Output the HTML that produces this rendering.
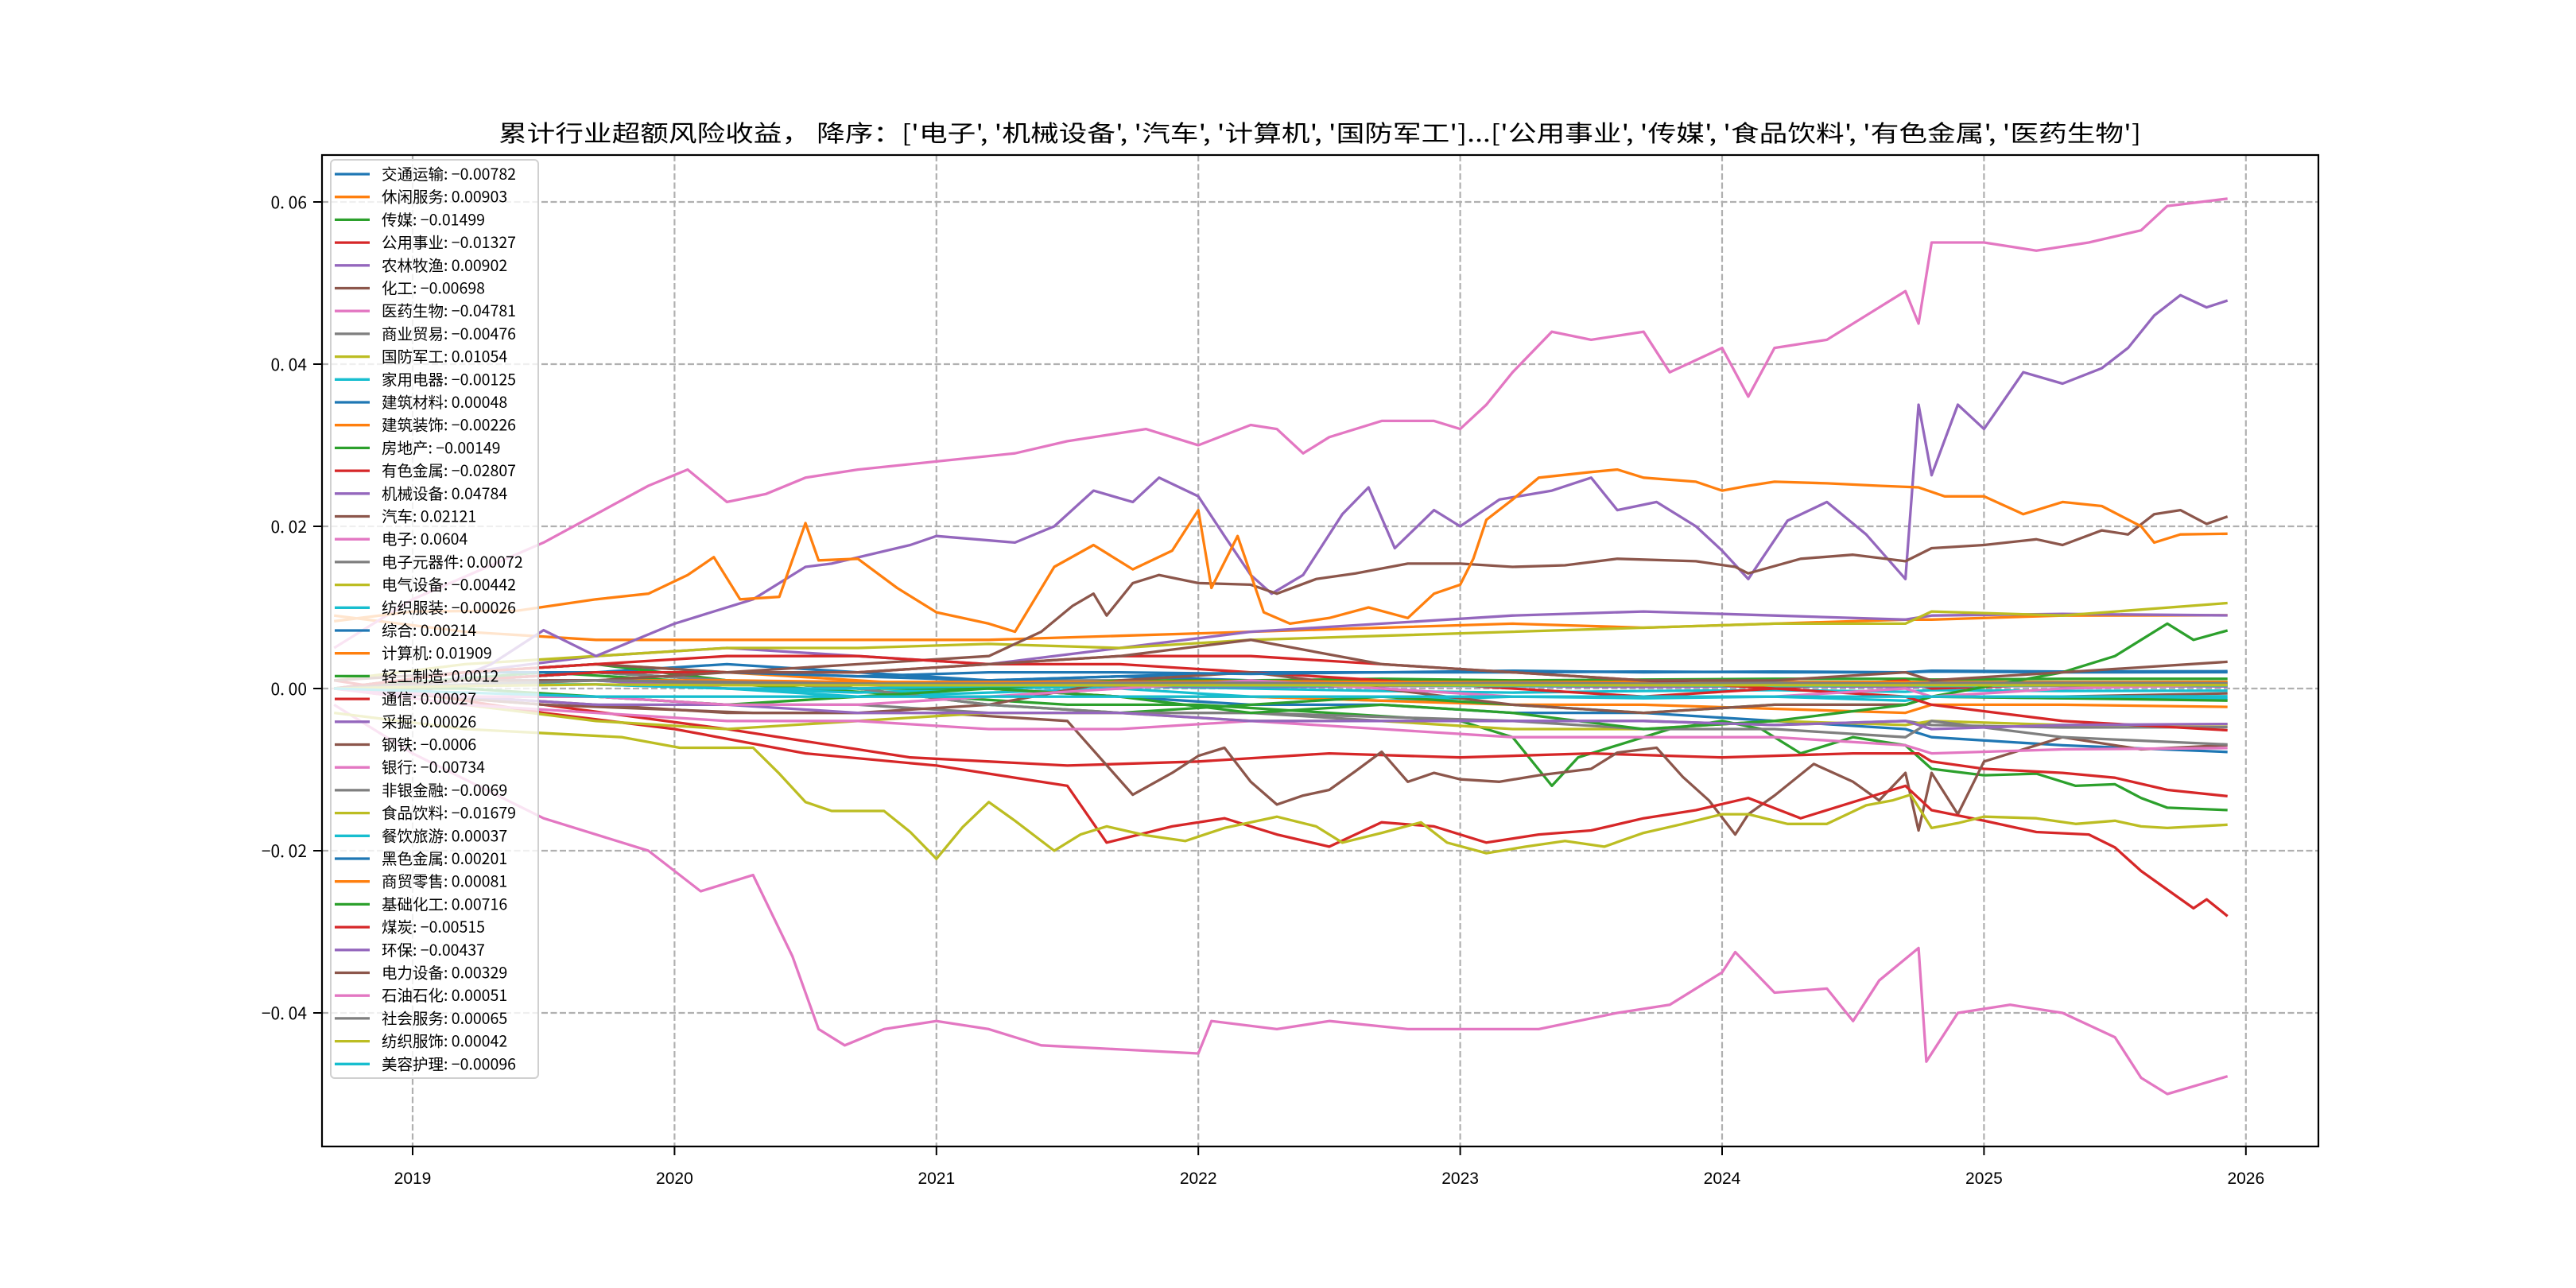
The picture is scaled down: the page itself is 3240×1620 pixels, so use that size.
<!DOCTYPE html>
<html><head><meta charset="utf-8">
<style>
html,body{margin:0;padding:0;background:#fff;}
svg{display:block;}
text{font-family:"Liberation Sans","Noto Sans CJK SC",sans-serif;}
</style></head>
<body>
<svg id="chart" width="3240" height="1620" viewBox="0 0 3240 1620" xmlns="http://www.w3.org/2000/svg">
<rect x="0" y="0" width="3240" height="1620" fill="#fff"/>
<text x="1660" y="178" text-anchor="middle" font-size="29" fill="#000" textLength="2066" lengthAdjust="spacingAndGlyphs" style="font-family:'WenQuanYi Zen Hei','Noto Sans CJK SC',sans-serif">累计行业超额风险收益， 降序：['电子', '机械设备', '汽车', '计算机', '国防军工']...['公用事业', '传媒', '食品饮料', '有色金属', '医药生物']</text>
<g id="grid"></g>
<g id="series"></g>
<rect x="405" y="195" width="2511" height="1247" fill="none" stroke="#000" stroke-width="2.2"/>
<g id="ticks"></g>
<g id="legend"></g>
</svg>
<script>
// ---- data ----
const xTicks = [2019, 2020, 2021, 2022, 2023, 2024, 2025, 2026];
const yTicks = [-0.04, -0.02, 0.00, 0.02, 0.04, 0.06];
const yTickLabels = ["−0. 04", "−0. 02", "0. 00", "0. 02", "0. 04", "0. 06"];
const names = ["交通运输","休闲服务","传媒","公用事业","农林牧渔","化工","医药生物","商业贸易","国防军工","家用电器","建筑材料","建筑装饰","房地产","有色金属","机械设备","汽车","电子","电子元器件","电气设备","纺织服装","综合","计算机","轻工制造","通信","采掘","钢铁","银行","非银金融","食品饮料","餐饮旅游","黑色金属","商贸零售","基础化工","煤炭","环保","电力设备","石油石化","社会服务","纺织服饰","美容护理"];
const finals = ["-0.00782","0.00903","-0.01499","-0.01327","0.00902","-0.00698","-0.04781","-0.00476","0.01054","-0.00125","0.00048","-0.00226","-0.00149","-0.02807","0.04784","0.02121","0.0604","0.00072","-0.00442","-0.00026","0.00214","0.01909","0.0012","0.00027","0.00026","-0.0006","-0.00734","-0.0069","-0.01679","0.00037","0.00201","0.00081","0.00716","-0.00515","-0.00437","0.00329","0.00051","0.00065","0.00042","-0.00096"];

const tc = [2018.7,2019.2,2019.7,2020.2,2020.7,2021.2,2021.7,2022.2,2022.7,2023.2,2023.7,2024.2,2024.7,2024.8,2025.3,2025.93];

const v_jiaotong   = [0,0.001,0.002,0.001,0.000,0.000,-0.001,-0.002,-0.002,-0.003,-0.003,-0.004,-0.005,-0.006,-0.007,-0.00782];
const v_xiuxian    = [0.009,0.007,0.006,0.006,0.006,0.006,0.0065,0.007,0.0075,0.008,0.0075,0.008,0.0085,0.0085,0.009,0.00903];
const v_nonglin    = [0.000,0.002,0.004,0.005,0.004,0.003,0.005,0.007,0.008,0.009,0.0095,0.009,0.0085,0.009,0.0092,0.00902];
const v_shangye    = [0,-0.001,-0.001,-0.002,-0.002,-0.003,-0.003,-0.003,-0.0035,-0.004,-0.004,-0.0045,-0.004,-0.0045,-0.0048,-0.00476];
const v_guofang    = [0.001,0.003,0.004,0.005,0.005,0.0055,0.005,0.006,0.0065,0.007,0.0075,0.008,0.008,0.0095,0.009,0.01054];
const v_jiayong    = [0,0.001,0.001,0.000,-0.001,-0.0005,0,-0.001,-0.0015,-0.001,-0.0012,-0.001,-0.0015,-0.001,-0.0012,-0.00125];
const v_jiancai    = [0,0.002,0.002,0.003,0.002,0.001,0.0015,0.001,0.001,0.0005,0.0008,0.0005,0.0003,0.0005,0.0005,0.00048];
const v_jianzhuang = [0,0.002,0.003,0.002,0.001,0.000,-0.001,-0.001,-0.0015,-0.002,-0.002,-0.0025,-0.003,-0.002,-0.002,-0.00226];
const v_fangdichan = [0,0.002,0.003,0.001,0.000,-0.002,-0.003,-0.002,-0.001,-0.002,-0.003,-0.002,-0.002,-0.001,-0.0012,-0.00149];
const v_yuanqijian = [0,0.001,0.001,0.0005,0.0005,0.001,0.001,0.0008,0.0008,0.0007,0.0005,0.0007,0.0006,0.0008,0.0007,0.00072];
const v_dianqi     = [0,-0.002,-0.004,-0.005,-0.004,-0.003,-0.003,-0.004,-0.004,-0.005,-0.005,-0.004,-0.0045,-0.004,-0.0045,-0.00442];
const v_fangzhi    = [0,0.0005,0.0005,0,-0.0005,0,0.0003,0,-0.0003,-0.0005,-0.0003,-0.0002,-0.0004,-0.0002,-0.0003,-0.00026];
const v_zonghe     = [0,0.001,0.002,0.002,0.0015,0.001,0.0015,0.002,0.002,0.0022,0.002,0.0021,0.002,0.0022,0.0021,0.00214];
const v_qinggong   = [0,0.001,0.002,0.001,0.000,0.000,0.001,0.001,0.0012,0.001,0.0011,0.0012,0.0012,0.0011,0.0012,0.0012];
const v_tongxin    = [0,0.002,0.003,0.004,0.004,0.003,0.003,0.002,0.001,0.000,-0.001,0.000,0.001,0.000,0.0005,0.00027];
const v_caijue     = [0,0.001,0.001,0,0,0.0005,0.0003,0.0002,0.0003,0.0003,0.0002,0.0003,0.0002,0.0003,0.0003,0.00026];
const v_gangtie    = [0,-0.001,-0.002,-0.003,-0.003,-0.002,0.001,0.002,0.000,-0.002,-0.003,-0.002,-0.002,-0.001,-0.001,-0.0006];
const v_yinhang    = [0,-0.002,-0.003,-0.004,-0.004,-0.005,-0.005,-0.004,-0.005,-0.006,-0.006,-0.006,-0.007,-0.008,-0.0075,-0.00734];
const v_feiyin     = [0,0.001,0.002,0.001,0.000,-0.002,-0.003,-0.003,-0.004,-0.004,-0.005,-0.005,-0.006,-0.004,-0.006,-0.0069];
const v_canyin     = [0,0.0005,0.0005,0,0,0.0003,0.0004,0.0003,0.0004,0.0003,0.0004,0.0003,0.0004,0.0003,0.0004,0.00037];
const v_heise      = [0,0.001,0.002,0.002,0.0015,0.002,0.002,0.0018,0.002,0.002,0.0021,0.002,0.002,0.0021,0.002,0.00201];
const v_shangmao   = [0,0.0005,0.001,0.001,0.0008,0.0008,0.0008,0.0009,0.0008,0.0008,0.0008,0.0008,0.0008,0.0008,0.0008,0.00081];
const v_meitan     = [0,0.001,0.002,0.002,0.002,0.003,0.004,0.004,0.003,0.002,0.001,0.000,-0.001,-0.002,-0.004,-0.00515];
const v_huanbao    = [0,-0.001,-0.002,-0.002,-0.003,-0.003,-0.003,-0.004,-0.004,-0.004,-0.004,-0.0045,-0.004,-0.005,-0.0045,-0.00437];
const v_dianli     = [0,0.001,0.001,0.002,0.002,0.003,0.004,0.006,0.003,0.002,0.001,0.001,0.002,0.001,0.002,0.00329];
const v_shiyou     = [0,-0.001,-0.001,-0.002,-0.002,-0.001,0,0.001,0.000,-0.001,-0.001,-0.001,0.000,-0.001,0.000,0.00051];
const v_shehui     = [0,0.0005,0.001,0.0008,0.0006,0.0006,0.0007,0.0007,0.0006,0.0007,0.0006,0.0007,0.0006,0.0007,0.0007,0.00065];
const v_fangzhifs  = [0,0.0003,0.0005,0.0004,0.0004,0.0004,0.0004,0.0004,0.0004,0.0004,0.0004,0.0004,0.0004,0.0004,0.0004,0.00042];
const v_meirong    = [0,-0.0005,-0.001,-0.001,-0.001,-0.001,-0.001,-0.001,-0.001,-0.001,-0.001,-0.001,-0.001,-0.001,-0.001,-0.00096];

const t_jichu = [2018.7,2019.2,2019.7,2020.2,2020.7,2021.2,2021.7,2022.2,2022.7,2023.2,2023.7,2024.2,2024.7,2024.8,2025.3,2025.5,2025.6,2025.7,2025.8,2025.93];
const v_jichu = [0,0,-0.001,-0.002,-0.001,0.000,-0.001,-0.003,-0.002,-0.003,-0.005,-0.004,-0.002,-0.001,0.002,0.004,0.006,0.008,0.006,0.00716];

const t_dianzi = [2018.7,2019.0,2019.5,2019.9,2020.05,2020.2,2020.35,2020.5,2020.7,2021.0,2021.3,2021.5,2021.8,2022.0,2022.2,2022.3,2022.4,2022.5,2022.7,2022.9,2023.0,2023.1,2023.2,2023.35,2023.5,2023.7,2023.8,2024.0,2024.1,2024.2,2024.4,2024.6,2024.7,2024.75,2024.8,2025.0,2025.2,2025.4,2025.6,2025.7,2025.93];
const v_dianzi = [0.005,0.011,0.018,0.025,0.027,0.023,0.024,0.026,0.027,0.028,0.029,0.0305,0.032,0.030,0.0325,0.032,0.029,0.031,0.033,0.033,0.032,0.035,0.039,0.044,0.043,0.044,0.039,0.042,0.036,0.042,0.043,0.047,0.049,0.045,0.055,0.055,0.054,0.055,0.0565,0.0595,0.0604];

const t_yiyao = [2018.7,2019.0,2019.5,2019.9,2020.1,2020.3,2020.45,2020.55,2020.65,2020.8,2021.0,2021.2,2021.4,2021.7,2022.0,2022.05,2022.3,2022.5,2022.8,2023.0,2023.3,2023.6,2023.8,2024.0,2024.05,2024.2,2024.4,2024.5,2024.6,2024.75,2024.78,2024.9,2025.1,2025.3,2025.5,2025.6,2025.7,2025.93];
const v_yiyao = [-0.002,-0.008,-0.016,-0.020,-0.025,-0.023,-0.033,-0.042,-0.044,-0.042,-0.041,-0.042,-0.044,-0.0445,-0.045,-0.041,-0.042,-0.041,-0.042,-0.042,-0.042,-0.040,-0.039,-0.035,-0.0325,-0.0375,-0.037,-0.041,-0.036,-0.032,-0.046,-0.040,-0.039,-0.040,-0.043,-0.048,-0.050,-0.04781];

const t_jixie = [2018.7,2019.0,2019.3,2019.5,2019.7,2020.0,2020.3,2020.5,2020.6,2020.9,2021.0,2021.3,2021.45,2021.6,2021.75,2021.85,2022.0,2022.1,2022.2,2022.28,2022.4,2022.55,2022.65,2022.75,2022.9,2023.0,2023.15,2023.35,2023.5,2023.6,2023.75,2023.9,2024.0,2024.1,2024.25,2024.4,2024.55,2024.7,2024.75,2024.8,2024.9,2025.0,2025.15,2025.3,2025.45,2025.55,2025.65,2025.75,2025.85,2025.93];
const v_jixie = [0.000,-0.001,0.003,0.0072,0.004,0.008,0.011,0.015,0.0154,0.0177,0.0188,0.018,0.020,0.0244,0.023,0.026,0.0237,0.0188,0.014,0.0117,0.014,0.0215,0.0248,0.0173,0.022,0.020,0.0233,0.0244,0.026,0.022,0.023,0.020,0.017,0.0135,0.0207,0.023,0.019,0.0135,0.035,0.0263,0.035,0.032,0.039,0.0376,0.0395,0.042,0.046,0.0485,0.047,0.04784];

const t_jisuanji = [2018.7,2019.0,2019.4,2019.7,2019.9,2020.05,2020.15,2020.25,2020.4,2020.5,2020.55,2020.7,2020.85,2021.0,2021.2,2021.3,2021.45,2021.6,2021.75,2021.9,2022.0,2022.05,2022.15,2022.25,2022.35,2022.5,2022.65,2022.8,2022.9,2023.0,2023.05,2023.1,2023.2,2023.3,2023.5,2023.6,2023.7,2023.9,2024.0,2024.1,2024.2,2024.4,2024.6,2024.75,2024.85,2025.0,2025.15,2025.3,2025.45,2025.6,2025.65,2025.75,2025.93];
const v_jisuanji = [0.0083,0.0095,0.0096,0.011,0.0117,0.014,0.0162,0.011,0.0113,0.0204,0.0158,0.016,0.0124,0.0094,0.008,0.007,0.015,0.0177,0.0147,0.017,0.022,0.0124,0.0188,0.0094,0.008,0.0087,0.010,0.0087,0.0117,0.0128,0.016,0.0208,0.0233,0.026,0.0267,0.027,0.026,0.0255,0.0244,0.025,0.0255,0.0253,0.025,0.0248,0.0237,0.0237,0.0215,0.023,0.0225,0.020,0.018,0.019,0.01909];

const t_qiche = [2018.7,2019.2,2019.7,2020.2,2020.7,2021.2,2021.4,2021.52,2021.6,2021.65,2021.75,2021.85,2022.0,2022.2,2022.3,2022.45,2022.6,2022.8,2023.0,2023.2,2023.4,2023.6,2023.9,2024.05,2024.1,2024.3,2024.5,2024.7,2024.8,2025.0,2025.2,2025.3,2025.45,2025.55,2025.65,2025.75,2025.85,2025.93];
const v_qiche = [0.001,0.002,0.003,0.002,0.003,0.004,0.007,0.0102,0.0117,0.009,0.013,0.014,0.013,0.0128,0.0117,0.0135,0.0142,0.0154,0.0154,0.015,0.0152,0.016,0.0157,0.015,0.0142,0.016,0.0165,0.0157,0.0173,0.0177,0.0184,0.0177,0.0195,0.019,0.0215,0.022,0.0203,0.02121];

const t_youse = [2018.7,2019.5,2020.0,2020.5,2021.0,2021.5,2021.65,2021.9,2022.1,2022.3,2022.5,2022.7,2022.9,2023.1,2023.3,2023.5,2023.7,2023.9,2024.1,2024.3,2024.5,2024.7,2024.8,2025.0,2025.2,2025.4,2025.5,2025.6,2025.7,2025.8,2025.85,2025.93];
const v_youse = [0.001,-0.003,-0.005,-0.008,-0.0095,-0.012,-0.019,-0.017,-0.016,-0.018,-0.0195,-0.0165,-0.017,-0.019,-0.018,-0.0175,-0.016,-0.015,-0.0135,-0.016,-0.014,-0.012,-0.015,-0.0163,-0.0177,-0.018,-0.0196,-0.0225,-0.0248,-0.0271,-0.026,-0.02807];

const t_gongyong = [2018.7,2019.5,2020.2,2020.9,2021.5,2022.0,2022.5,2023.0,2023.5,2024.0,2024.5,2024.75,2024.8,2025.0,2025.3,2025.5,2025.7,2025.93];
const v_gongyong = [0.000,-0.002,-0.005,-0.0085,-0.0095,-0.009,-0.008,-0.0085,-0.008,-0.0085,-0.008,-0.008,-0.009,-0.0099,-0.0104,-0.011,-0.0125,-0.01327];

const t_shipin = [2018.7,2019.2,2019.8,2020.02,2020.3,2020.4,2020.5,2020.6,2020.8,2020.9,2021.0,2021.1,2021.2,2021.3,2021.45,2021.55,2021.65,2021.8,2021.95,2022.1,2022.3,2022.45,2022.55,2022.7,2022.85,2022.95,2023.1,2023.25,2023.4,2023.55,2023.7,2023.85,2024.0,2024.1,2024.25,2024.4,2024.55,2024.65,2024.72,2024.8,2024.9,2025.0,2025.2,2025.35,2025.5,2025.6,2025.7,2025.93];
const v_shipin = [-0.003,-0.005,-0.006,-0.0073,-0.0073,-0.0105,-0.014,-0.0151,-0.0151,-0.0177,-0.021,-0.0171,-0.014,-0.0163,-0.020,-0.018,-0.017,-0.0181,-0.0188,-0.0172,-0.0158,-0.017,-0.019,-0.0178,-0.0165,-0.019,-0.0203,-0.0195,-0.0188,-0.0195,-0.0178,-0.0167,-0.0155,-0.0155,-0.0167,-0.0167,-0.0144,-0.0138,-0.0131,-0.0172,-0.0166,-0.0158,-0.016,-0.0167,-0.0163,-0.017,-0.0172,-0.01679];

const t_chuanmei = [2018.7,2019.5,2020.0,2020.5,2021.0,2021.5,2022.0,2022.5,2023.0,2023.2,2023.35,2023.45,2023.6,2023.8,2024.0,2024.15,2024.3,2024.5,2024.7,2024.8,2025.0,2025.2,2025.35,2025.5,2025.6,2025.7,2025.93];
const v_chuanmei = [0.000,0.002,0.001,0.000,-0.001,-0.002,-0.002,-0.003,-0.004,-0.006,-0.012,-0.0085,-0.007,-0.005,-0.004,-0.005,-0.008,-0.006,-0.007,-0.0099,-0.0107,-0.0105,-0.012,-0.0118,-0.0135,-0.0147,-0.01499];

const t_huagong = [2018.7,2019.5,2020.3,2021.0,2021.5,2021.75,2021.9,2022.0,2022.1,2022.2,2022.3,2022.4,2022.5,2022.6,2022.7,2022.8,2022.9,2023.0,2023.15,2023.3,2023.5,2023.6,2023.75,2023.85,2023.95,2024.05,2024.1,2024.2,2024.35,2024.5,2024.6,2024.7,2024.75,2024.8,2024.9,2025.0,2025.3,2025.6,2025.93];
const v_huagong = [0.000,-0.002,-0.003,-0.003,-0.004,-0.0131,-0.0104,-0.0083,-0.0073,-0.0115,-0.0143,-0.0132,-0.0125,-0.0102,-0.0078,-0.0115,-0.0104,-0.0112,-0.0115,-0.0107,-0.0099,-0.0079,-0.0073,-0.0109,-0.0138,-0.018,-0.0155,-0.0132,-0.0093,-0.0115,-0.0138,-0.0104,-0.0175,-0.0104,-0.0155,-0.009,-0.006,-0.0075,-0.00698];

const palette = ["#1f77b4","#ff7f0e","#2ca02c","#d62728","#9467bd","#8c564b","#e377c2","#7f7f7f","#bcbd22","#17becf"];

const seriesT = [tc,tc,t_chuanmei,t_gongyong,tc,t_huagong,t_yiyao,tc,tc,tc,tc,tc,tc,t_youse,t_jixie,t_qiche,t_dianzi,tc,tc,tc,tc,t_jisuanji,tc,tc,tc,tc,tc,tc,t_shipin,tc,tc,tc,t_jichu,tc,tc,tc,tc,tc,tc,tc];
const seriesV = [v_jiaotong,v_xiuxian,v_chuanmei,v_gongyong,v_nonglin,v_huagong,v_yiyao,v_shangye,v_guofang,v_jiayong,v_jiancai,v_jianzhuang,v_fangdichan,v_youse,v_jixie,v_qiche,v_dianzi,v_yuanqijian,v_dianqi,v_fangzhi,v_zonghe,v_jisuanji,v_qinggong,v_tongxin,v_caijue,v_gangtie,v_yinhang,v_feiyin,v_shipin,v_canyin,v_heise,v_shangmao,v_jichu,v_meitan,v_huanbao,v_dianli,v_shiyou,v_shehui,v_fangzhifs,v_meirong];

// ---- scales ----
const X0 = 405, X1 = 2916, Y0 = 195, Y1 = 1442;
function xS(yr){ return 519 + (yr - 2019) * 329.4; }
function yS(v){ return 866 - v * 10200; }
const NS = "http://www.w3.org/2000/svg";
function mk(tag, attrs){ const e = document.createElementNS(NS, tag); for (const k in attrs) e.setAttribute(k, attrs[k]); return e; }

const grid = document.getElementById('grid');
xTicks.forEach(t => {
  const l = mk('line', {x1:xS(t), x2:xS(t), y1:Y0, y2:Y1, stroke:'#b0b0b0', 'stroke-width':2.2, 'stroke-dasharray':'8,3.5'});
  
  
  grid.appendChild(l);
});
yTicks.forEach(t => {
  const l = mk('line', {x1:X0, x2:X1, y1:yS(t), y2:yS(t), stroke:'#b0b0b0', 'stroke-width':2.2, 'stroke-dasharray':'8,3.5'});
  
  
  grid.appendChild(l);
});

const sg = document.getElementById('series');
seriesV.forEach((vals, i) => {
  const ts = seriesT[i];
  let d = '';
  vals.forEach((v, j) => { d += (j ? 'L' : 'M') + xS(ts[j]).toFixed(1) + ',' + yS(v).toFixed(1); });
  const p = mk('path', {d:d, fill:'none', stroke:palette[i % 10], 'stroke-width':3.3, 'stroke-linejoin':'round'});
  
  
  sg.appendChild(p);
});

const tg = document.getElementById('ticks');
xTicks.forEach(t => {
  const l = mk('line', {x1:xS(t), x2:xS(t), y1:Y1, y2:Y1 + 11, stroke:'#000', 'stroke-width':2});
  
  
  tg.appendChild(l);
  const tx = mk('text', {x:xS(t), y:1489, 'text-anchor':'middle', 'font-size':21, fill:'#000'});
  tx.textContent = String(t);
  
  
  tg.appendChild(tx);
});
yTicks.forEach((t, i) => {
  const l = mk('line', {x1:X0 - 11, x2:X0, y1:yS(t), y2:yS(t), stroke:'#000', 'stroke-width':2});
  
  
  tg.appendChild(l);
  const tx = mk('text', {x:386, y:yS(t) + 8, 'text-anchor':'end', 'font-size':21, fill:'#000'});
  tx.setAttribute('style', "font-family:'WenQuanYi Zen Hei','Noto Sans CJK SC',sans-serif");
  tx.textContent = yTickLabels[i];
  
  
  tg.appendChild(tx);
});

const lg = document.getElementById('legend');
const box = mk('rect', {x:416, y:201, width:261, height:1155, rx:5, fill:'#fff', 'fill-opacity':0.8, stroke:'#d0d0d0', 'stroke-width':2});


lg.appendChild(box);
names.forEach((n, i) => {
  const y = 219 + i * 28.7;
  const l = mk('line', {x1:421, x2:465, y1:y, y2:y, stroke:palette[i % 10], 'stroke-width':3.3});
  
  
  lg.appendChild(l);
  const tx = mk('text', {x:480, y:y + 7, 'font-size':19.5, fill:'#000'});
  tx.setAttribute('style', "font-family:'WenQuanYi Zen Hei','Noto Sans CJK SC',sans-serif");
  tx.textContent = n + ': ' + finals[i].replace('-', '−');
  
  
  lg.appendChild(tx);
});
</script>
</body></html>
